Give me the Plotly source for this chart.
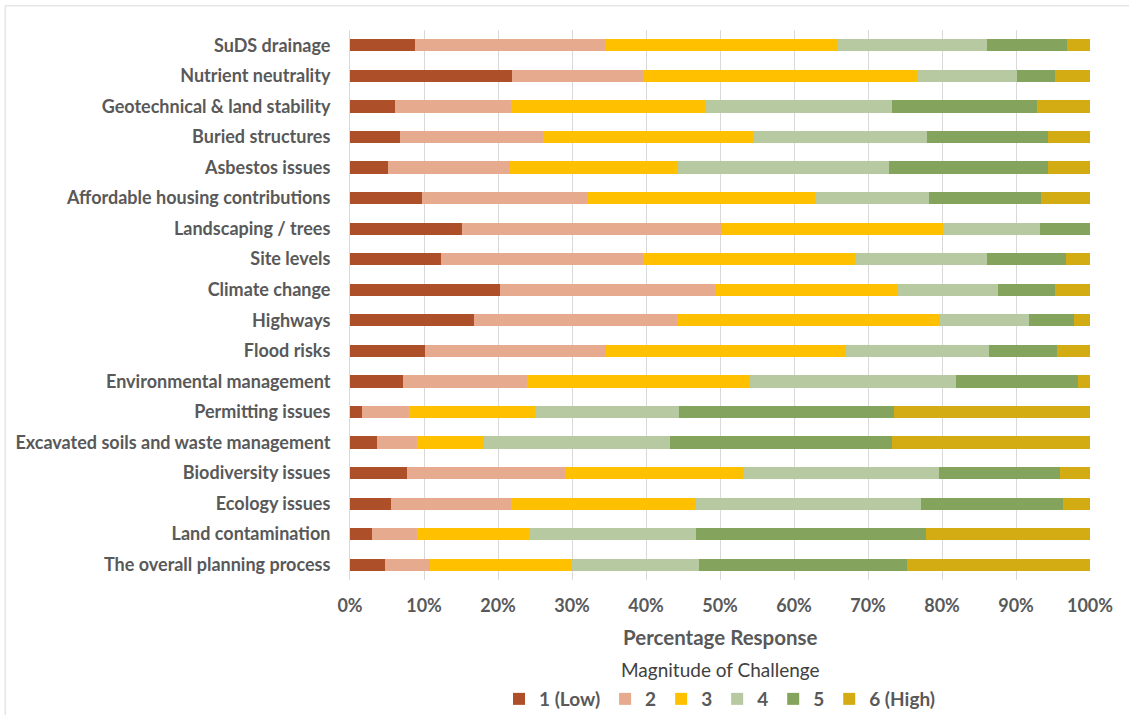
import plotly.graph_objects as go

categories = ["SuDS drainage", "Nutrient neutrality", "Geotechnical & land stability",
              "Buried structures", "Asbestos issues", "Affordable housing contributions",
              "Landscaping / trees", "Site levels", "Climate change", "Highways",
              "Flood risks", "Environmental management", "Permitting issues",
              "Excavated soils and waste management", "Biodiversity issues",
              "Ecology issues", "Land contamination", "The overall planning process"]

level_names = ["1 (Low)", "2", "3", "4", "5", "6 (High)"]

r1 = [8.8, 21.9, 6.1, 6.7, 5.2, 9.7, 15.2, 12.3, 20.3, 16.7, 10.2, 7.2, 1.6, 3.6, 7.7, 5.6, 3.0, 4.7]
r2 = [25.7, 17.7, 15.6, 19.4, 16.4, 22.4, 35.1, 27.3, 29.2, 27.6, 24.4, 16.7, 6.4, 5.5, 21.4, 16.2, 6.1, 6.1]
r3 = [31.5, 37.0, 26.3, 28.3, 22.6, 30.8, 29.8, 28.6, 24.4, 35.4, 32.4, 30.1, 17.0, 9.0, 24.0, 24.9, 15.1, 19.0]
r4 = [20.1, 13.5, 25.3, 23.6, 28.7, 15.4, 13.1, 17.9, 13.6, 12.0, 19.3, 27.9, 19.5, 25.1, 26.5, 30.5, 22.6, 17.4]
r5 = [10.8, 5.2, 19.6, 16.3, 21.4, 15.1, 6.8, 10.7, 7.8, 6.2, 9.2, 16.5, 29.0, 30.1, 16.3, 19.2, 31.1, 28.1]
r6 = [3.1, 4.7, 7.1, 5.7, 5.7, 6.6, 0.0, 3.2, 4.7, 2.1, 4.5, 1.6, 26.5, 26.7, 4.1, 3.6, 22.1, 24.7]

series = [r1, r2, r3, r4, r5, r6]
colors = ["#AD4F28", "#E6AA8E", "#FFC000", "#B6C9A0", "#84A45E", "#D3AC14"]

TXT = "#595959"
FONT = "Lato"

fig = go.Figure()
for name, vals, col in zip(level_names, series, colors):
    fig.add_trace(go.Bar(
        y=categories, x=vals, name=name, orientation="h",
        marker=dict(color=col, line=dict(width=0)),
    ))

fig.update_layout(
    barmode="stack",
    bargap=0.6,
    width=1129, height=715,
    margin=dict(l=350, r=39, t=30, b=135, autoexpand=False),
    paper_bgcolor="white", plot_bgcolor="white",
    font=dict(family=FONT, color=TXT),
    showlegend=True,
    legend=dict(
        orientation="h", x=0.5, xanchor="center", y=-0.2164, yanchor="middle",
        font=dict(family=FONT, size=19, color=TXT, weight="bold"),
        traceorder="normal", itemwidth=30,
    ),
    xaxis=dict(
        range=[0, 100], dtick=10, ticksuffix="%",
        showgrid=True, gridcolor="#D9D9D9", gridwidth=1,
        zeroline=False, showline=False,
        tickfont=dict(family=FONT, size=18, color=TXT, weight="bold"),
        ticklabelstandoff=13, fixedrange=True,
    ),
    yaxis=dict(
        autorange="reversed",
        showline=True, linecolor="#D9D9D9", linewidth=1,
        showgrid=False,
        tickfont=dict(family=FONT, size=18, color=TXT, weight="bold"),
        ticklabelstandoff=15,
    ),
    annotations=[
        dict(text="<b>Percentage Response</b>", xref="paper", yref="paper",
             x=0.5, y=-0.1036, xanchor="center", yanchor="middle", showarrow=False,
             font=dict(family=FONT, size=20.5, color=TXT)),
        dict(text="Magnitude of Challenge", xref="paper", yref="paper",
             x=0.5, y=-0.1636, xanchor="center", yanchor="middle", showarrow=False,
             font=dict(family=FONT, size=19, color="#404040")),
    ],
    shapes=[
        dict(type="line", xref="paper", yref="paper", x0=-0.466, x1=-0.466, y0=-0.3, y1=1.044,
             line=dict(color="#D9D9D9", width=1)),
        dict(type="line", xref="paper", yref="paper", x0=-0.466, x1=1.06, y0=1.044, y1=1.044,
             line=dict(color="#D9D9D9", width=1)),
    ],
)

fig.write_html("out.html")
